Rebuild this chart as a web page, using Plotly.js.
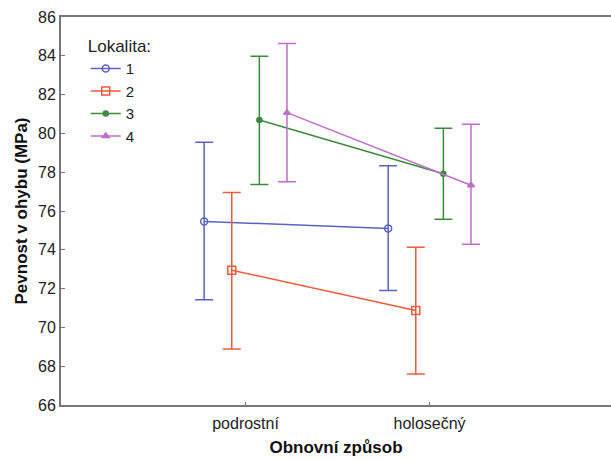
<!DOCTYPE html>
<html>
<head>
<meta charset="utf-8">
<script src="https://cdn.plot.ly/plotly-3.0.1.min.js"></script>
<style>html,body{margin:0;padding:0;background:#fff;}#chart{width:611px;height:460px;}</style>
</head>
<body>
<div id="chart"></div>
<script>
const categories = ["podrostní", "holosečný"];
const seriesNames = ["1", "2", "3", "4"];
const means = [
  [75.46, 75.10],
  [72.95, 70.87],
  [80.69, 77.92],
  [81.07, 77.33]
];
const upper = [
  [79.54, 78.33],
  [76.96, 74.13],
  [83.98, 80.26],
  [84.64, 80.47]
];
const lower = [
  [71.43, 71.90],
  [68.89, 67.60],
  [77.37, 75.58],
  [77.51, 74.28]
];

const colors = ["#5b62c2", "#ee5b3c", "#3d8a3d", "#bd6fc6"];
const symbols = ["circle-open", "square-open", "circle", "triangle-up"];
const sizes = [7, 8, 5, 6];
const offsets = [-0.225, -0.075, 0.075, 0.225];

const traces = seriesNames.map((name, i) => ({
  type: "scatter",
  mode: "lines+markers",
  name: name,
  x: categories.map((c, j) => j + offsets[i]),
  y: means[i],
  line: {color: colors[i], width: 1.5},
  marker: {symbol: symbols[i], size: sizes[i], color: colors[i], line: {color: colors[i], width: 1.5}},
  error_y: {
    type: "data",
    symmetric: false,
    array: means[i].map((m, j) => upper[i][j] - m),
    arrayminus: means[i].map((m, j) => m - lower[i][j]),
    color: colors[i],
    thickness: 1.5,
    width: 9
  }
}));

const layout = {
  width: 611,
  height: 460,
  margin: {l: 61, r: 0, t: 17, b: 55},
  paper_bgcolor: "#fff",
  plot_bgcolor: "#fff",
  font: {family: "Liberation Sans, Arial, sans-serif", size: 14, color: "#222"},
  showlegend: true,
  legend: {
    x: 0.045, y: 0.966, xanchor: "left", yanchor: "top",
    bgcolor: "rgba(0,0,0,0)",
    font: {size: 15, color: "#222"},
    title: {text: "Lokalita:", font: {size: 17, color: "#222"}},
    tracegroupgap: 0,
    itemwidth: 30
  },
  xaxis: {
    range: [-1.003, 1.986],
    tickvals: [0, 1],
    ticktext: categories,
    showgrid: false,
    zeroline: false,
    showline: true,
    linecolor: "#777",
    linewidth: 2,
    mirror: true,
    ticks: "inside",
    ticklen: 3,
    tickcolor: "#777",
    ticklabelstandoff: 3,
    tickfont: {size: 16, color: "#222"},
    title: {text: "Obnovní způsob", font: {size: 17, color: "#111", weight: "bold"}, standoff: 10}
  },
  yaxis: {
    range: [66, 86],
    dtick: 2,
    showgrid: false,
    zeroline: false,
    showline: true,
    linecolor: "#777",
    linewidth: 2,
    ticks: "inside",
    ticklen: 4,
    tickcolor: "#777",
    tickfont: {size: 16, color: "#222"},
    title: {text: "Pevnost v ohybu (MPa)", font: {size: 17, color: "#111", weight: "bold"}, standoff: 6}
  }
};

Plotly.newPlot("chart", traces, layout, {displayModeBar: false, staticPlot: true});
</script>
</body>
</html>
